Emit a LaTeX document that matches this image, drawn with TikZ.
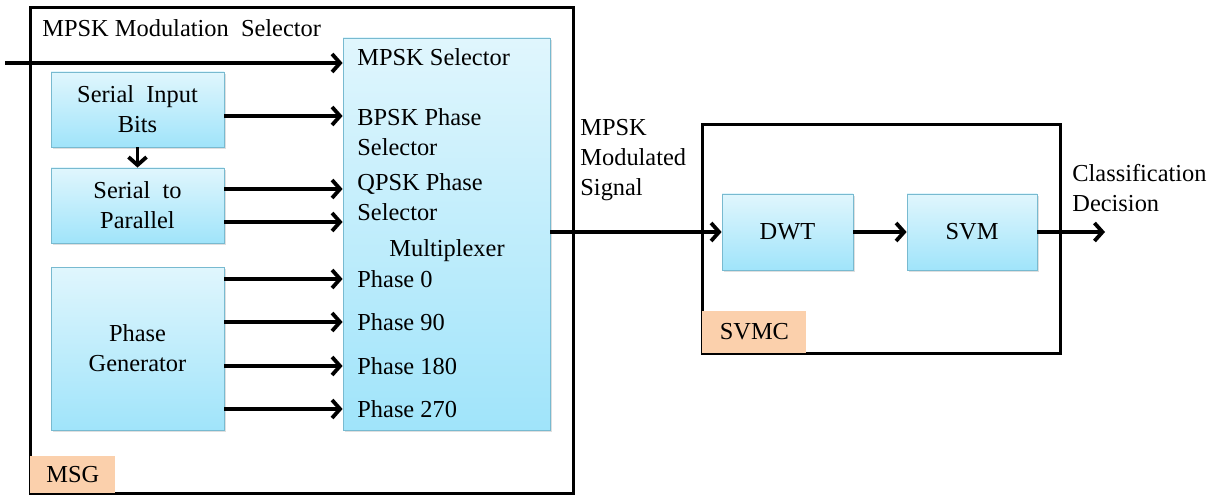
\documentclass[tikz,border=0pt]{standalone}
\usepackage{fontspec}
\setmainfont{Liberation Serif}
\usetikzlibrary{arrows.meta, shadows}
\definecolor{boxtop}{RGB}{224,246,253}
\definecolor{boxbot}{RGB}{160,228,250}
\definecolor{boxline}{RGB}{120,186,208}
\definecolor{tagfill}{RGB}{251,208,172}

\tikzset{
    block/.style={draw=boxline, top color=boxtop, bottom color=boxbot, align=center,
        drop shadow={shadow xshift=1pt, shadow yshift=-1pt, opacity=0.25}},
    frame/.style={draw, line width=1.5pt},
    tag/.style={fill=tagfill, inner sep=0pt},
    sig/.style={line width=1.9pt, -{Straight Barb[length=4pt, width=9pt]}},
    lbl/.style={anchor=west, inner sep=0pt}
}

\begin{document}
\begin{tikzpicture}[x=0.5pt, y=-0.5pt, font=\fontsize{12.2}{15}\selectfont]
    \useasboundingbox (0,0) rectangle (1219,497);
    % MSG frame
    \node[frame, minimum width=271.5pt, minimum height=242.5pt] (msg) at (301.5,250.5) {};
    \node[tag, anchor=south west, minimum width=42.5pt, minimum height=18.5pt] (msgtag)
        at ([shift={(0.75pt,0.75pt)}]msg.south west) {MSG};
    \node[lbl] (msgtitle) at (42,28) {MPSK Modulation\ \ Selector};
    % Blocks
    \node[block, minimum width=86.5pt, minimum height=37.5pt] (sib) at (137.5,109.5) {Serial\ \ Input\\Bits};
    \node[block, minimum width=86.5pt, minimum height=37.5pt] (stp) at (137.5,205.5) {Serial\ \ to\\Parallel};
    \node[block, minimum width=86.5pt, minimum height=81.5pt] (pg) at (137.5,348.5) {Phase\\Generator};
    \node[block, minimum width=103.5pt, minimum height=196pt] (mux) at (446.5,234) {};
    % Multiplexer inputs
    \node[lbl] (msel) at (357,57) {MPSK Selector};
    \node[lbl, align=left, anchor=north west] (bpsk) at (357,108) {BPSK Phase\\Selector};
    \node[lbl, align=left, anchor=north west] (qpsk) at (357,173) {QPSK Phase\\Selector};
    \node[inner sep=0pt] (muxtxt) at (447,251) {Multiplexer};
    \node[lbl] (ph0) at (357,279) {Phase 0};
    \node[lbl] (ph90) at (357,322) {Phase 90};
    \node[lbl] (ph180) at (357,366) {Phase 180};
    \node[lbl] (ph270) at (357,409) {Phase 270};
    \coordinate (in) at (5,63);
    \coordinate (qa) at (0,189);
    \coordinate (qb) at (0,222);
    % Connections
    \draw[sig] (in) -- (mux.west |- in);
    \draw[sig] (sib.south) -- (stp.north);
    \draw[sig] (sib.east |- 0,116) -- (mux.west |- 0,116);
    \draw[sig] (stp.east |- qa) -- (mux.west |- qa);
    \draw[sig] (stp.east |- qb) -- (mux.west |- qb);
    \foreach \ph in {ph0, ph90, ph180, ph270}
        \draw[sig] (pg.east |- \ph) -- (mux.west |- \ph);
    % SVMC frame
    \node[frame, minimum width=179pt, minimum height=114pt] (svmc) at (881,239) {};
    \node[tag, anchor=south west, minimum width=52pt, minimum height=21pt] (svmctag)
        at ([shift={(0.75pt,0.75pt)}]svmc.south west) {SVMC};
    \node[block, minimum width=65.5pt, minimum height=38pt] (dwt) at (787.5,232) {DWT};
    \node[block, minimum width=65pt, minimum height=38pt] (svm) at (972,232) {SVM};
    \node[lbl, align=left, anchor=north west] (modsig) at (580,119) {MPSK\\Modulated\\Signal};
    \node[lbl, align=left, anchor=north west] (decision) at (1072,164) {Classification\\Decision};
    \coordinate (out) at (1105,232);
    \draw[sig] (mux.east |- dwt) -- (dwt.west);
    \draw[sig] (dwt.east) -- (svm.west);
    \draw[sig] (svm.east) -- (out);
\end{tikzpicture}
\end{document}
